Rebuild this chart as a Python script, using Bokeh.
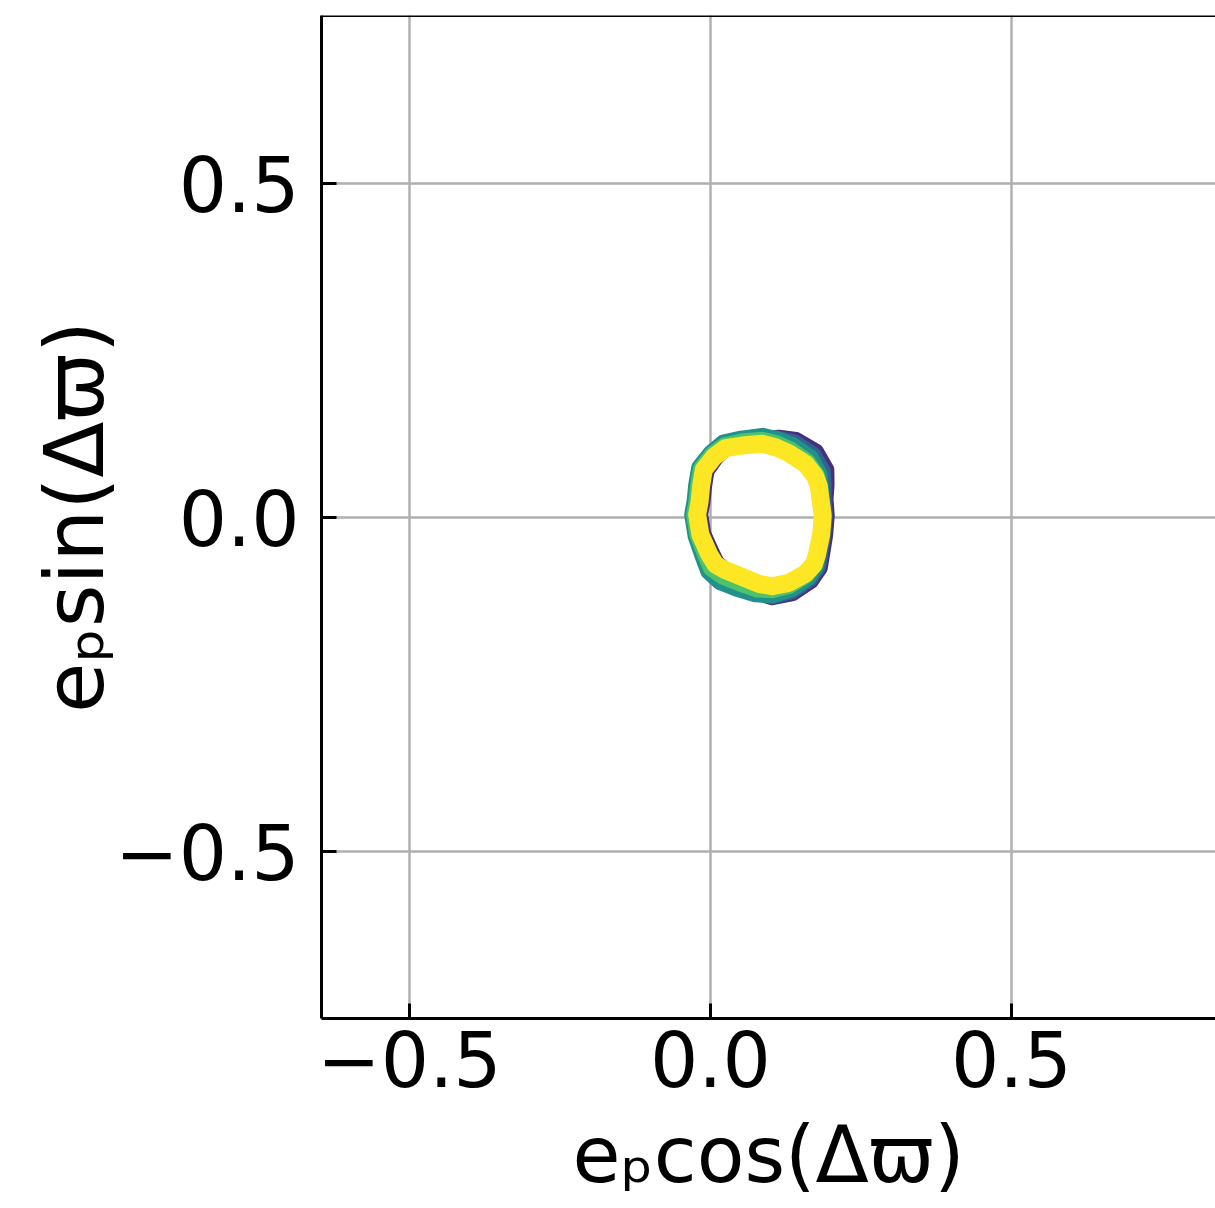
import math
from bokeh.plotting import figure
from bokeh.models import Range1d, FixedTicker, Span
from bokeh.embed import file_html
from bokeh.resources import INLINE

# tick positions and labels
ticks = [-0.5, 0.0, 0.5]
tick_labels = {-0.5: "\u22120.5", 0.0: "0.0", 0.5: "0.5"}

# centre line of the latest (yellow) part of the ring (clockwise from top)
ring_x = [0.0858, 0.108, 0.130, 0.158, 0.174, 0.180, 0.183, 0.1866, 0.184, 0.177, 0.1717, 0.158,
          0.130, 0.1025, 0.080, 0.0526, 0.0249, 0.0083, -0.0017, -0.0166, -0.022, -0.018, -0.0155,
          -0.011, 0.0066, 0.0249, 0.0526]
ring_y = [0.1106, 0.1056, 0.0967, 0.0807, 0.062, 0.047, 0.027, 0.003, -0.0254, -0.0553, -0.070,
          -0.0837, -0.0976, -0.1027, -0.099, -0.0887, -0.0787, -0.070, -0.0553, -0.0254, 0.0045,
          0.024, 0.047, 0.072, 0.0917, 0.104, 0.108]

# how far (in px, outward) the earlier parts of the ring stick out beyond the yellow band, read per point
purple_off = [4, 10, 15, 16, 13, 8, 5, 4, 4, 5, 7, 9, 11, 11, 9, 5, 0, -2, -3, -3, -3, -3, -3, -3, -2, 0, 2]
blue_off = [6, 9, 12, 12, 9, 5, 3, 2, 2, 3, 5, 7, 9, 10, 9, 6, 2, 0, 0, 0, 0, 0, 0, 0, 0, 2, 4]
teal_off = [8, 8, 9, 8, 5, 2, 1, 0, 0, 1, 3, 5, 7, 9, 11, 13, 13, 10, 7, 5, 5, 5, 5, 5, 5, 6, 7]
green_off = [4, 4, 4, 3, 2, 1, 0, 0, 0, 0, 1, 2, 3, 4, 6, 7, 7, 6, 4, 3, 3, 3, 3, 3, 3, 3, 4]

X0, X1 = -0.646, 0.839
Y0, Y1 = -0.75, 0.752
W, H = 1215, 1208
BL, BR, BT, BB = 321, 0, 15, 190
SX = (W - BL - BR) / (X1 - X0)
SY = (H - BT - BB) / (Y1 - Y0)


def shifted(offs):
    n = len(ring_x)
    xs, ys = [], []
    for i in range(n):
        a, b = (i - 1) % n, (i + 1) % n
        tx = (ring_x[b] - ring_x[a]) * SX
        ty = (ring_y[b] - ring_y[a]) * SY
        L = math.hypot(tx, ty)
        nx, ny = -ty / L, tx / L
        xs.append(ring_x[i] + nx * offs[i] / SX)
        ys.append(ring_y[i] + ny * offs[i] / SY)
    return xs, ys


FONT = "DejaVu Sans"

p = figure(width=W, height=H, output_backend="svg", toolbar_location=None,
           x_range=Range1d(X0, X1), y_range=Range1d(Y0, Y1),
           min_border_left=BL, min_border_right=BR, min_border_top=BT, min_border_bottom=BB)

p.outline_line_color = None
p.background_fill_color = "white"
p.border_fill_color = "white"

for g in (p.xgrid, p.ygrid):
    g.grid_line_color = "#b0b0b0"
    g.grid_line_width = 2.5

for ax in (p.xaxis, p.yaxis):
    ax.ticker = FixedTicker(ticks=ticks)
    ax.major_label_overrides = tick_labels
    ax.axis_line_color = "black"
    ax.axis_line_width = 3
    ax.major_tick_line_color = "black"
    ax.major_tick_line_width = 3
    ax.major_tick_in = 15
    ax.major_tick_out = 0
    ax.minor_tick_line_color = None
    ax.major_label_text_font = FONT
    ax.major_label_text_font_size = "76px"
    ax.major_label_text_color = "black"
    ax.axis_label_text_font = FONT
    ax.axis_label_text_font_size = "78px"
    ax.axis_label_text_font_style = "normal"
    ax.axis_label_text_color = "black"

p.xaxis.axis_label = "e\u209acos(\u0394\u03d6)"
p.yaxis.axis_label = "e\u209asin(\u0394\u03d6)"
p.yaxis.axis_label_text_font_size = "82px"
p.xaxis.major_label_standoff = 12
p.xaxis.axis_label_standoff = 20
p.yaxis.major_label_standoff = 22
p.yaxis.axis_label_standoff = -10

# top border
p.add_layout(Span(location=Y1, dimension="width", line_color="black", line_width=3))

for offs, col in ((purple_off, "#46307e"), (blue_off, "#33638d"),
                  (teal_off, "#21918c"), (green_off, "#4cc26c")):
    xs, ys = shifted(offs)
    p.patch(xs, ys, fill_color=None, line_color=col, line_width=16, line_join="round")

p.patch(ring_x, ring_y, fill_color=None, line_color="#fde725", line_width=18, line_join="round")

open("out.html", "w").write(file_html(p, INLINE))
